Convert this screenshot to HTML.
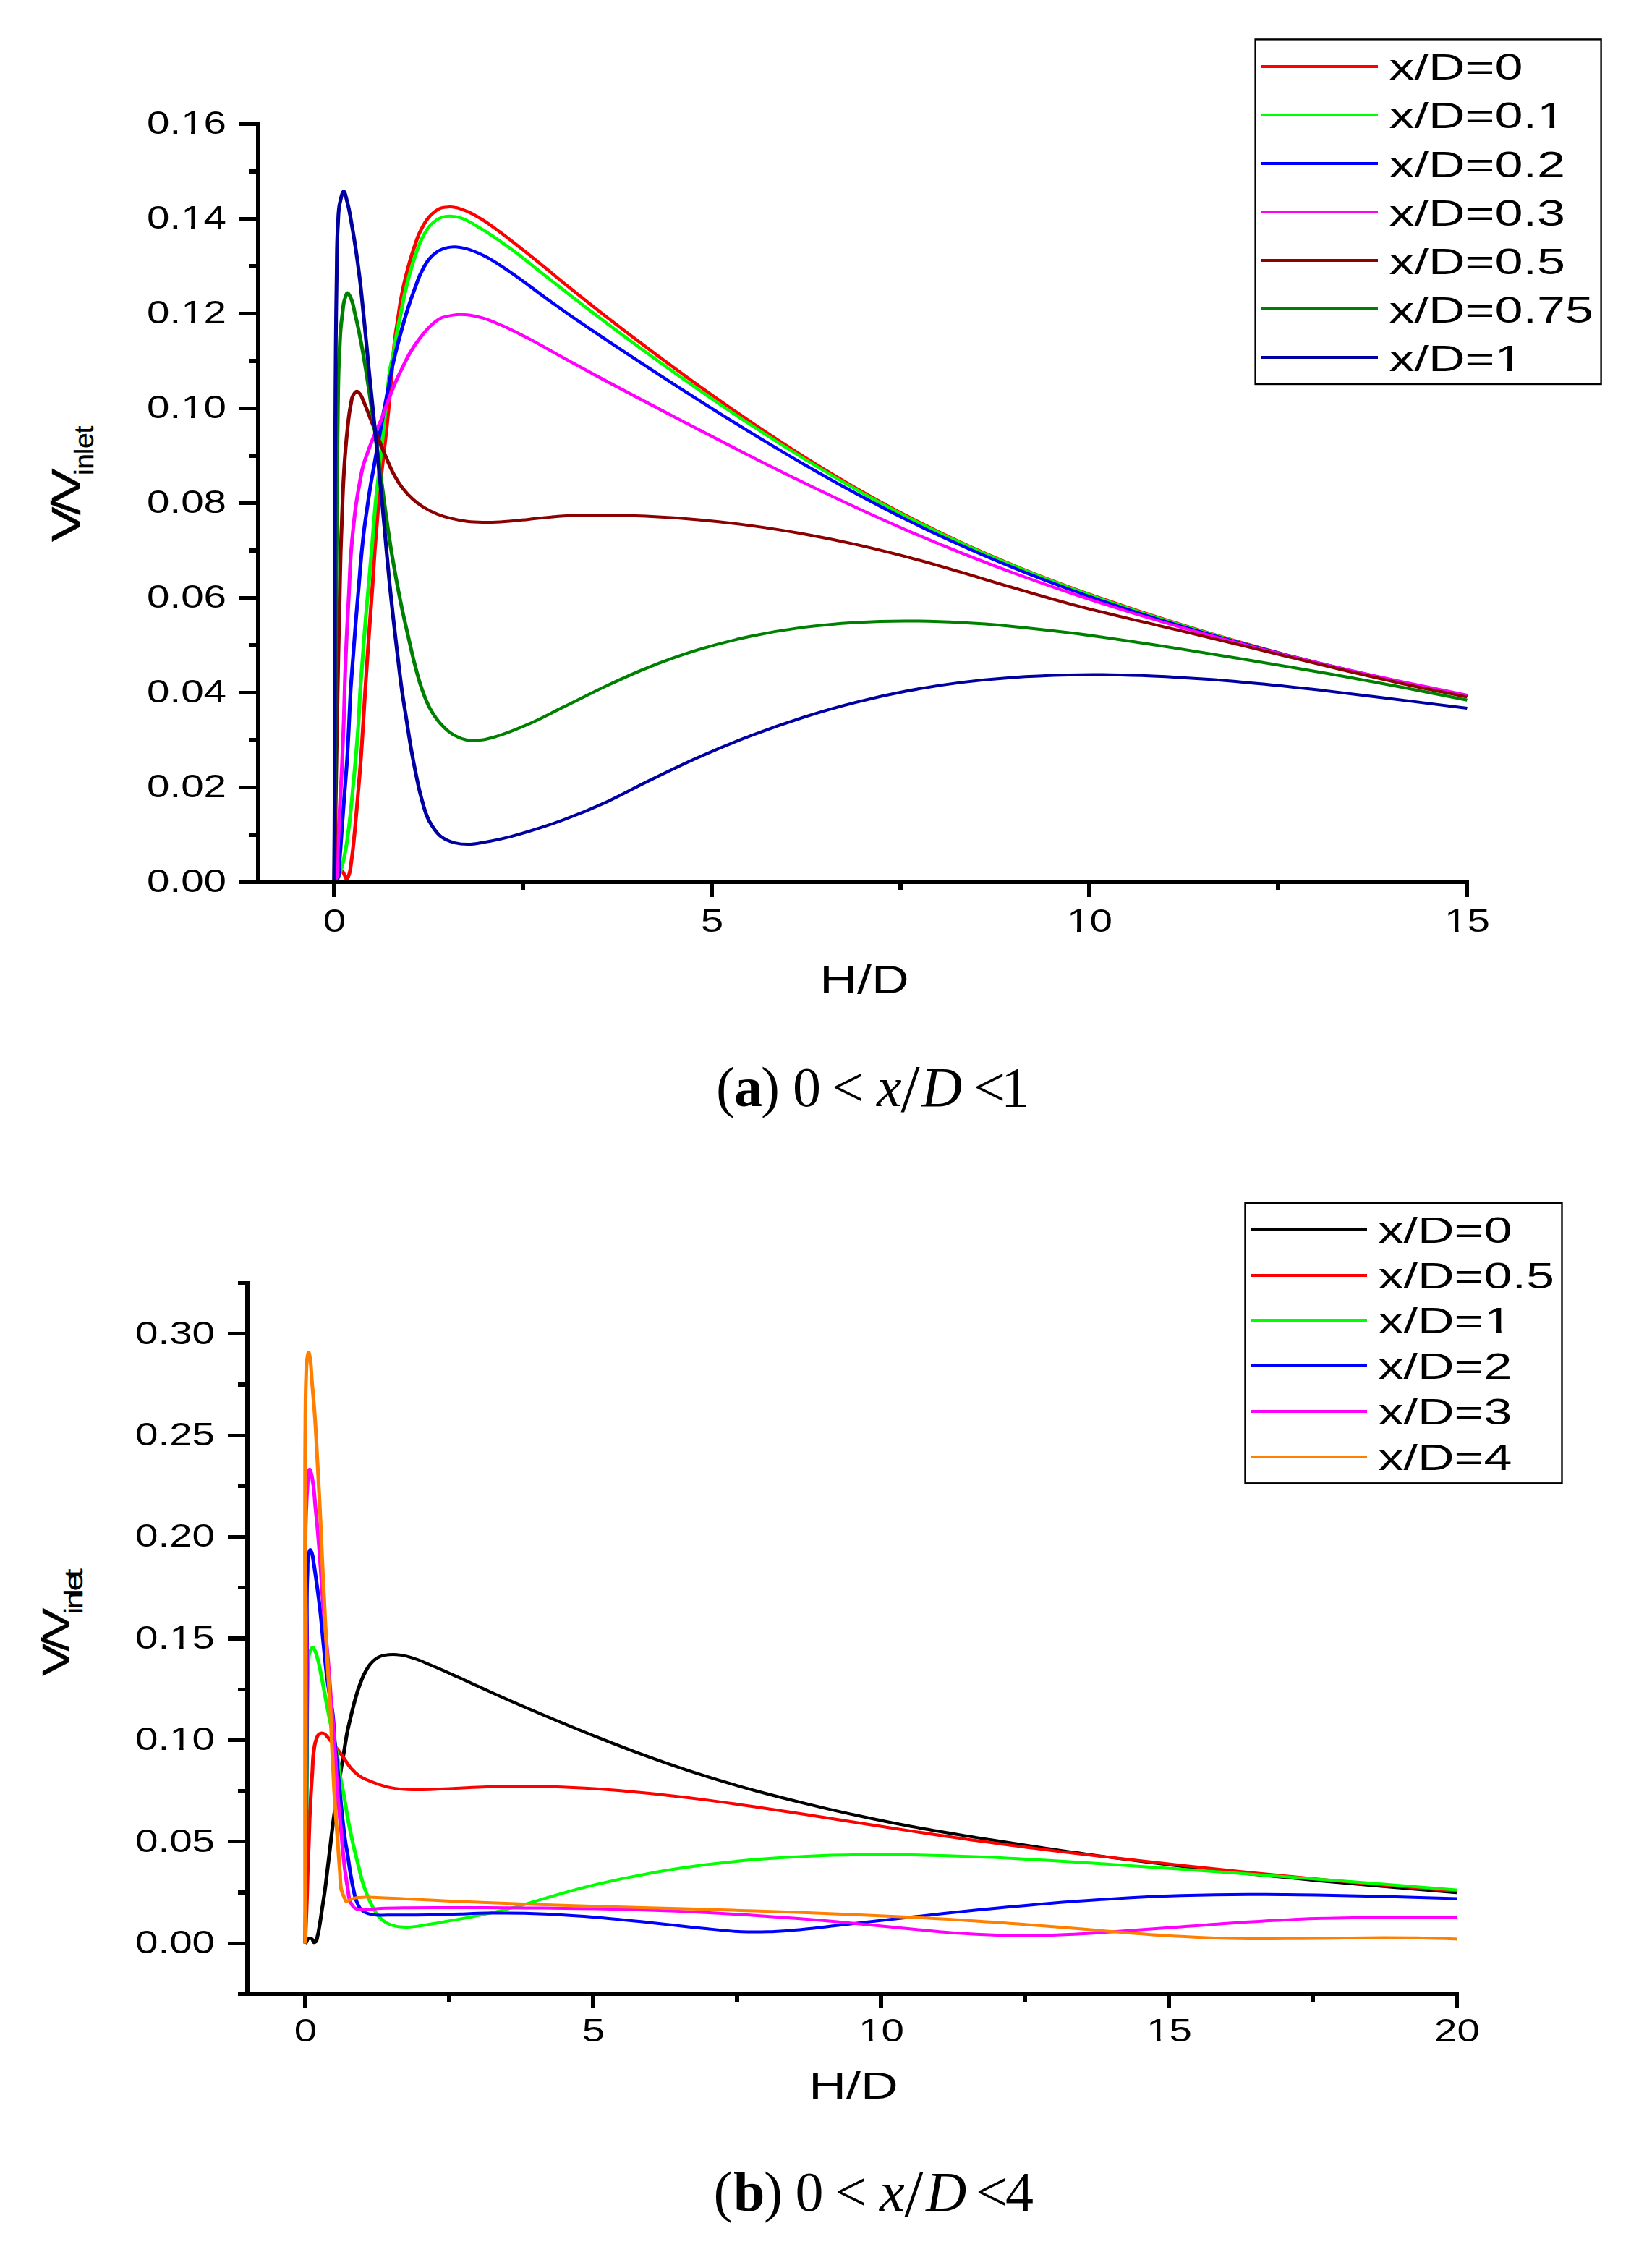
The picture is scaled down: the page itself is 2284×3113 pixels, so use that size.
<!DOCTYPE html>
<html><head><meta charset="utf-8"><title>Figure</title>
<style>
html,body{margin:0;padding:0;background:#fff;}
body{width:2284px;height:3113px;overflow:hidden;}
svg{display:block;}
text{font-family:"Liberation Sans", sans-serif;fill:#000;font-kerning:none;}
text.cap{font-family:"Liberation Serif",serif;}
</style></head><body>
<svg width="2284" height="3113" viewBox="0 0 2284 3113">
<rect width="2284" height="3113" fill="#fff"/>
<g id="plotA">
<g fill="none" stroke-width="4.0" stroke-linejoin="round" stroke-linecap="butt" transform="scale(1.280 1)">
<path stroke="#ff0000" d="M360.94 1219.4C361.98 1215.6 362.42 1211.4 364.06 1208.0C364.93 1206.2 365.72 1203.3 367.19 1203.0C367.81 1202.9 368.69 1203.1 369.30 1203.4C370.73 1204.2 371.04 1207.1 371.88 1209.0C372.82 1211.1 373.75 1215.6 374.61 1215.5C375.44 1215.4 376.29 1211.2 376.95 1209.0C378.84 1202.7 378.88 1195.6 379.69 1188.9C381.42 1174.5 382.31 1159.8 383.44 1145.3C384.68 1129.2 385.65 1113.0 386.72 1096.9C387.79 1080.7 388.92 1064.6 389.84 1048.4C390.73 1033.0 391.42 1017.5 392.19 1002.1C392.99 986.0 393.72 969.8 394.53 953.7C395.34 937.6 396.17 921.4 397.03 905.3C397.89 889.2 398.79 873.0 399.69 856.9C400.59 840.7 401.56 824.6 402.42 808.4C403.28 792.3 403.95 776.1 404.84 760.0C406.07 737.9 407.39 715.8 408.98 693.7C410.15 677.6 411.45 661.4 412.81 645.3C414.18 629.2 415.83 613.0 417.19 596.9C418.54 580.7 419.76 564.6 420.94 548.4C422.11 532.3 423.02 516.1 424.22 500.0C425.08 488.4 425.77 476.8 426.95 465.2C427.78 457.1 428.89 449.1 429.84 441.0C430.79 432.9 431.57 424.8 432.66 416.8C433.75 408.7 434.99 400.6 436.41 392.5C437.83 384.4 439.44 376.3 441.17 368.3C442.93 360.2 444.79 352.1 446.88 344.1C448.89 336.4 450.67 328.4 453.44 321.1C456.52 313.0 459.86 304.3 464.84 298.1C468.11 294.0 471.87 289.5 476.17 287.7C478.54 286.7 481.21 286.4 483.75 286.2C486.26 286.0 488.84 286.2 491.33 286.7C495.87 287.5 500.28 289.9 504.53 292.1C510.50 295.2 516.06 299.8 521.56 304.1C528.11 309.3 534.24 315.4 540.47 321.2C550.78 330.9 560.76 341.2 570.78 351.3C583.52 364.2 595.93 377.7 608.59 390.8C624.26 406.9 639.98 423.0 655.86 438.8C669.59 452.4 683.43 465.9 697.34 479.3C716.13 497.3 735.04 515.2 754.14 532.7C772.88 549.8 791.76 566.7 810.86 583.2C829.60 599.4 848.51 615.3 867.66 630.7C886.36 645.7 905.24 660.4 924.38 674.5C943.06 688.2 961.95 701.6 981.09 714.2C999.80 726.6 1018.76 738.5 1037.89 749.7C1061.25 763.5 1084.95 776.4 1108.83 788.7C1123.89 796.4 1139.07 803.8 1154.30 811.0C1174.36 820.5 1194.57 829.4 1214.84 838.1C1234.94 846.8 1255.15 855.0 1275.39 863.0C1295.51 870.9 1315.70 878.7 1335.94 886.1C1356.06 893.5 1376.24 900.7 1396.48 907.6C1416.58 914.4 1436.74 921.0 1456.95 927.2C1477.08 933.4 1497.26 939.4 1517.50 945.0C1539.83 951.2 1562.29 956.6 1584.69 962.4"/>
<path stroke="#00ff00" d="M360.94 1219.4C362.14 1218.1 363.57 1217.0 364.53 1215.5C366.19 1212.9 366.55 1209.1 367.42 1205.8C368.49 1201.8 369.40 1197.8 370.23 1193.7C371.87 1185.8 372.89 1177.6 373.98 1169.5C375.61 1157.5 376.68 1145.3 377.81 1133.2C379.32 1117.1 380.36 1100.9 381.56 1084.7C382.76 1068.6 383.96 1052.4 385.00 1036.3C385.76 1024.5 386.49 1012.8 387.11 1001.0C387.94 985.2 388.35 969.5 389.14 953.7C389.95 937.6 391.00 921.4 391.95 905.3C392.90 889.2 393.80 873.0 394.84 856.9C395.89 840.7 397.09 824.6 398.20 808.4C399.22 793.6 400.26 778.8 401.25 764.0C402.82 740.6 403.98 717.1 405.78 693.7C407.02 677.5 408.54 661.4 409.92 645.3C411.30 629.2 412.73 613.0 414.06 596.9C415.41 580.6 416.52 564.3 417.97 548.0C419.28 533.3 419.76 518.4 422.27 504.0C422.84 500.7 423.58 497.5 424.14 494.2C425.37 487.0 425.94 479.6 426.95 472.4C427.86 466.0 428.87 459.5 429.84 453.1C431.07 445.0 432.33 437.0 433.59 428.9C434.86 420.8 436.01 412.7 437.42 404.6C438.84 396.5 440.39 388.4 442.11 380.4C443.85 372.3 445.70 364.2 447.81 356.2C450.09 347.6 452.20 338.8 455.39 330.8C458.07 324.0 460.74 316.7 464.84 311.4C468.27 307.0 472.50 302.5 477.11 300.5C479.77 299.4 482.78 298.9 485.62 298.8C488.77 298.7 492.00 299.6 495.08 300.4C504.65 303.1 513.02 311.3 521.56 317.6C532.08 325.5 541.92 334.9 551.80 344.0C564.78 356.0 577.05 369.3 589.69 381.9C602.29 394.5 614.82 407.2 627.50 419.7C636.91 428.9 646.37 438.1 655.86 447.2C669.61 460.5 683.44 473.5 697.34 486.5C716.13 504.0 735.05 521.3 754.14 538.2C772.89 554.9 791.77 571.3 810.86 587.3C829.62 603.1 848.53 618.5 867.66 633.5C886.37 648.2 905.26 662.5 924.38 676.3C943.08 689.8 961.97 702.9 981.09 715.4C999.82 727.6 1018.78 739.3 1037.89 750.5C1061.27 764.3 1084.96 777.2 1108.83 789.4C1123.90 797.2 1139.07 804.6 1154.30 811.8C1174.36 821.3 1194.57 830.3 1214.84 839.1C1234.93 847.7 1255.14 855.9 1275.39 863.9C1295.50 871.8 1315.69 879.4 1335.94 886.8C1356.06 894.1 1376.25 901.1 1396.48 907.9C1416.59 914.6 1436.75 921.0 1456.95 927.2C1477.09 933.3 1497.27 939.2 1517.50 944.8C1539.84 951.0 1562.29 956.5 1584.69 962.4"/>
<path stroke="#0000ff" d="M360.94 1219.4C362.27 1217.3 363.87 1215.3 364.92 1213.1C368.07 1206.4 366.23 1197.0 366.80 1188.9C367.82 1174.4 368.46 1159.8 369.30 1145.3C370.23 1129.2 371.16 1113.0 372.11 1096.9C373.06 1080.7 374.19 1064.6 375.00 1048.4C375.79 1032.6 376.33 1016.8 376.95 1001.0C377.58 985.2 378.00 969.5 378.75 953.7C379.52 937.6 380.61 921.4 381.56 905.3C382.51 889.2 383.44 873.0 384.45 856.9C385.47 840.7 386.58 824.6 387.66 808.4C388.64 793.6 389.49 778.8 390.62 764.0C391.44 753.5 392.26 742.9 393.28 732.4C394.30 721.9 395.52 711.5 396.72 701.0C397.92 690.5 399.11 680.0 400.47 669.5C401.93 658.2 403.66 646.9 405.23 635.6C406.81 624.3 408.35 613.0 409.92 601.7C411.50 590.4 413.04 579.1 414.69 567.8C416.22 557.3 417.88 546.8 419.45 536.3C421.06 525.5 422.35 514.7 424.22 504.0C425.07 499.1 426.02 494.3 426.95 489.4C428.19 482.9 429.46 476.4 430.78 470.0C432.28 462.7 433.84 455.4 435.47 448.2C437.29 440.1 439.13 432.0 441.17 424.0C443.24 415.9 445.50 407.8 447.81 399.8C449.92 392.5 451.71 385.0 454.38 378.0C457.29 370.4 460.28 362.2 464.84 356.2C468.08 351.9 471.98 347.8 476.17 345.3C480.46 342.7 485.57 341.4 490.31 341.2C495.02 341.0 499.91 342.5 504.53 344.1C510.40 346.0 516.05 349.4 521.56 352.7C532.28 359.1 541.93 368.3 551.80 376.8C564.79 387.9 576.98 400.5 589.69 412.2C602.22 423.7 614.79 435.1 627.50 446.3C636.89 454.5 646.38 462.6 655.86 470.7C669.64 482.5 683.48 494.2 697.34 505.8C716.20 521.6 735.11 537.3 754.14 552.7C772.95 568.0 791.83 583.2 810.86 598.0C829.67 612.7 848.58 627.2 867.66 641.3C886.42 655.2 905.30 668.8 924.38 682.0C943.12 694.9 962.01 707.5 981.09 719.6C999.85 731.4 1018.80 742.9 1037.89 753.8C1061.30 767.3 1084.98 780.0 1108.83 792.1C1123.90 799.7 1139.07 807.1 1154.30 814.2C1174.36 823.6 1194.56 832.6 1214.84 841.1C1234.93 849.6 1255.13 857.7 1275.39 865.4C1295.49 873.1 1315.69 880.4 1335.94 887.5C1356.06 894.5 1376.26 901.2 1396.48 907.7C1416.59 914.1 1436.76 920.3 1456.95 926.3C1477.10 932.3 1497.30 938.1 1517.50 943.9C1539.87 950.2 1562.29 956.3 1584.69 962.5"/>
<path stroke="#ff00ff" d="M360.94 1219.4C361.51 1218.1 362.14 1216.8 362.66 1215.5C366.57 1205.5 363.98 1192.9 364.53 1181.6C365.52 1161.5 366.00 1141.3 366.80 1121.1C367.59 1100.9 368.56 1080.7 369.30 1060.5C370.08 1039.0 370.77 1017.5 371.33 996.0C371.80 977.9 372.03 959.7 372.50 941.6C373.02 921.4 373.65 901.3 374.38 881.1C375.10 860.9 376.05 840.7 376.88 820.5C377.64 801.7 378.02 782.8 379.14 764.0C379.82 752.7 380.64 741.3 381.56 730.0C382.42 719.5 383.29 709.0 384.45 698.5C385.53 688.8 386.82 679.1 388.20 669.5C389.36 661.4 390.29 653.2 391.95 645.3C393.50 637.9 395.62 630.7 397.66 623.5C399.73 616.2 401.95 608.9 404.30 601.7C406.69 594.4 409.53 587.3 411.88 579.9C414.66 571.2 416.83 562.1 419.45 553.3C421.87 545.2 424.25 537.1 426.95 529.1C429.73 520.9 432.85 513.0 435.94 505.0C437.96 499.8 439.87 494.5 442.11 489.4C445.47 481.8 449.29 474.5 453.44 467.6C456.97 461.7 460.57 455.7 464.84 450.7C468.31 446.6 471.98 442.3 476.17 439.8C480.19 437.4 484.91 436.4 489.38 435.6C494.35 434.7 499.53 434.7 504.53 435.2C510.27 435.8 516.01 437.7 521.56 439.7C528.03 442.1 534.25 445.7 540.47 449.1C550.81 454.7 560.79 461.4 570.78 467.9C583.58 476.4 595.98 485.7 608.59 494.6C619.26 502.1 629.92 509.6 640.62 517.0C659.45 530.1 678.41 542.8 697.34 555.5C716.25 568.3 735.17 580.9 754.14 593.5C773.01 606.0 791.89 618.5 810.86 630.8C829.73 643.0 848.64 655.1 867.66 666.9C886.48 678.6 905.37 690.2 924.38 701.4C943.18 712.5 962.07 723.4 981.09 733.9C999.91 744.3 1018.85 754.4 1037.89 764.1C1056.41 773.5 1075.04 782.7 1093.75 791.5C1113.83 801.0 1134.03 810.1 1154.30 818.9C1174.39 827.6 1194.59 835.9 1214.84 844.0C1234.95 852.0 1255.15 859.6 1275.39 867.1C1295.51 874.4 1315.70 881.5 1335.94 888.3C1356.07 895.1 1376.26 901.6 1396.48 907.9C1416.60 914.2 1436.76 920.3 1456.95 926.1C1477.10 932.0 1497.29 937.6 1517.50 943.2C1539.86 949.2 1562.29 955.0 1584.69 960.9"/>
<path stroke="#8b0000" d="M360.94 1219.4C361.33 1194.7 361.76 1170.0 362.11 1145.3C362.46 1121.1 362.72 1096.8 363.05 1072.6C363.37 1048.4 363.71 1024.2 364.06 1000.0C364.52 968.4 364.94 936.9 365.47 905.3C365.88 881.1 366.37 856.8 366.80 832.6C367.20 809.7 367.42 786.9 367.97 764.0C368.34 748.6 368.84 733.3 369.30 717.9C369.78 701.8 370.13 685.6 370.78 669.5C371.27 657.4 371.80 645.3 372.50 633.2C373.20 621.1 373.96 609.0 375.00 596.9C376.04 584.7 376.71 572.4 378.75 560.5C379.58 555.6 379.56 550.1 381.64 546.0C382.64 544.1 384.08 540.7 385.39 540.7C386.56 540.7 388.02 543.4 389.06 545.0C390.99 548.0 391.72 552.1 392.97 555.7C395.72 563.6 397.96 571.8 400.47 579.9C402.98 588.0 405.50 596.0 408.05 604.1C410.86 613.0 413.60 622.0 416.56 630.8C419.29 638.9 421.79 647.2 425.08 655.0C427.90 661.7 430.93 668.3 434.53 674.3C437.93 680.0 441.77 685.4 445.94 690.1C449.45 694.1 453.29 697.8 457.27 701.0C462.00 704.8 467.14 708.0 472.34 710.7C477.24 713.2 482.38 715.1 487.50 716.7C493.09 718.5 498.81 719.9 504.53 720.8C510.16 721.7 515.88 721.9 521.56 722.0C527.86 722.2 534.18 721.8 540.47 721.4C550.60 720.8 560.68 719.2 570.78 717.9C583.39 716.4 595.96 714.2 608.59 713.2C624.31 711.9 640.11 711.8 655.86 711.9C669.69 712.0 683.53 712.6 697.34 713.4C716.30 714.5 735.25 716.2 754.14 718.4C773.09 720.5 792.01 723.3 810.86 726.6C829.85 729.8 848.80 733.7 867.66 738.0C886.63 742.4 905.55 747.3 924.38 752.6C943.37 758.0 962.28 764.0 981.09 770.4C1000.12 776.8 1019.00 783.9 1037.89 790.9C1056.55 797.9 1075.10 805.3 1093.75 812.2C1113.90 819.8 1134.03 827.4 1154.30 834.3C1174.39 841.2 1194.62 847.5 1214.84 853.7C1234.99 860.0 1255.22 865.8 1275.39 871.9C1295.59 878.1 1315.76 884.3 1335.94 890.5C1356.13 896.8 1376.29 903.2 1396.48 909.4C1416.63 915.7 1436.77 921.9 1456.95 928.0C1477.11 934.0 1497.28 940.0 1517.50 945.7C1539.85 952.0 1562.29 957.6 1584.69 963.6"/>
<path stroke="#008000" d="M360.94 1219.4C361.20 1179.6 361.48 1139.8 361.72 1100.0C362.02 1050.0 362.24 1000.0 362.50 950.0C362.76 900.0 362.99 850.0 363.28 800.0C363.57 750.0 363.83 700.0 364.22 650.0C364.45 620.0 364.59 590.0 365.00 560.0C365.24 542.7 365.35 525.3 365.86 508.0C366.12 499.3 366.45 490.7 366.80 482.0C367.15 473.0 367.36 464.0 367.97 455.0C368.45 447.9 369.09 440.8 369.84 433.7C370.54 427.1 370.59 420.2 372.27 414.0C373.13 410.8 374.31 404.4 375.55 404.6C376.57 404.8 377.94 409.5 378.91 412.0C381.45 418.7 382.04 426.4 383.44 433.7C385.11 442.4 386.56 451.2 387.97 460.0C389.14 467.3 390.20 474.7 391.25 482.0C392.58 491.3 393.80 500.7 395.00 510.0C396.28 520.0 397.49 530.0 398.67 540.0C401.04 560.0 403.18 580.0 405.31 600.0C407.09 616.7 408.75 633.3 410.47 650.0C412.19 666.7 413.84 683.3 415.62 700.0C416.70 710.0 417.76 720.0 418.91 730.0C420.43 743.3 422.01 756.7 423.75 770.0C425.06 780.0 426.45 790.0 427.89 800.0C429.82 813.4 431.81 826.7 433.98 840.0C436.23 853.7 438.72 867.4 441.17 881.1C443.34 893.2 445.36 905.4 447.81 917.4C450.13 928.8 452.33 940.2 455.39 951.3C458.12 961.2 460.83 971.2 464.84 980.3C468.06 987.6 471.76 994.8 476.17 1000.9C480.07 1006.3 484.45 1011.7 489.38 1015.4C493.71 1018.7 498.68 1021.4 503.59 1022.7C509.06 1024.1 515.03 1023.6 520.62 1022.8C526.71 1021.9 532.68 1019.2 538.59 1017.0C549.60 1012.7 560.23 1006.8 570.78 1001.0C583.64 993.9 596.00 985.2 608.59 977.3C624.36 967.5 639.94 957.1 655.86 947.6C669.57 939.4 683.33 931.3 697.34 924.1C715.96 914.4 734.94 905.7 754.14 898.2C772.79 890.9 791.78 884.7 810.86 879.5C829.63 874.4 848.63 870.3 867.66 867.1C886.47 864.0 905.43 861.9 924.38 860.4C943.24 859.0 962.19 858.4 981.09 858.5C1000.03 858.5 1018.98 859.3 1037.89 860.6C1056.53 861.8 1075.16 863.7 1093.75 865.9C1113.97 868.3 1134.15 871.3 1154.30 874.5C1174.51 877.7 1194.68 881.4 1214.84 885.2C1235.05 889.0 1255.22 893.1 1275.39 897.1C1295.58 901.2 1315.77 905.4 1335.94 909.7C1356.13 913.9 1376.32 918.2 1396.48 922.7C1416.65 927.1 1436.81 931.7 1456.95 936.3C1477.15 941.0 1497.34 945.8 1517.50 950.8C1539.92 956.3 1562.29 962.1 1584.69 967.8"/>
<path stroke="#0000a0" d="M360.94 1219.4C361.20 1146.3 361.59 1073.1 361.72 1000.0C361.86 923.3 361.62 846.7 361.72 770.0C361.79 713.3 361.90 656.7 362.11 600.0C362.25 560.7 362.36 521.3 362.66 482.0C362.90 449.8 363.12 417.5 363.59 385.3C363.95 361.1 363.63 336.8 364.92 312.6C365.50 301.7 365.20 290.5 367.19 280.0C368.20 274.7 369.85 264.4 371.17 264.2C372.58 264.0 374.17 275.3 375.39 281.0C377.62 291.3 378.74 302.0 380.23 312.6C383.65 336.7 386.28 361.0 388.59 385.3C390.13 401.4 391.29 417.6 392.58 433.7C393.87 449.8 395.15 465.9 396.33 482.0C396.86 489.3 397.35 496.7 397.89 504.0C398.98 518.8 400.24 533.6 401.41 548.4C402.68 564.6 403.97 580.7 405.23 596.9C406.50 613.0 407.75 629.2 408.98 645.3C410.22 661.4 411.46 677.6 412.66 693.7C413.56 705.8 414.45 717.9 415.31 730.0C416.12 741.3 416.85 752.7 417.66 764.0C418.71 778.8 419.77 793.6 420.94 808.4C422.21 824.6 423.59 840.7 425.00 856.9C426.41 873.0 427.87 889.2 429.38 905.3C430.89 921.4 432.29 937.6 434.06 953.7C435.58 967.5 437.37 981.2 439.06 995.0C440.76 1008.8 442.32 1022.6 444.22 1036.3C445.68 1046.8 447.22 1057.3 448.91 1067.8C450.60 1078.3 452.16 1088.9 454.38 1099.3C457.00 1111.6 459.02 1124.7 463.91 1135.6C467.21 1143.0 470.96 1151.1 476.17 1156.2C480.46 1160.4 486.02 1163.3 491.33 1165.1C495.86 1166.6 500.76 1167.1 505.47 1167.1C511.47 1167.2 517.48 1165.4 523.44 1164.1C532.98 1162.1 542.43 1159.3 551.80 1156.3C561.36 1153.1 570.82 1149.4 580.23 1145.6C589.75 1141.8 599.23 1137.7 608.59 1133.3C624.60 1125.7 640.37 1117.3 655.86 1108.2C669.91 1099.9 683.45 1090.2 697.34 1081.5C716.16 1069.7 734.98 1057.8 754.14 1047.0C772.83 1036.4 791.75 1026.3 810.86 1017.0C829.60 1007.9 848.55 999.4 867.66 991.6C886.39 984.0 905.32 977.0 924.38 970.9C943.14 964.8 962.08 959.4 981.09 954.8C999.92 950.3 1018.89 946.5 1037.89 943.4C1056.44 940.4 1075.10 938.1 1093.75 936.4C1113.89 934.5 1134.10 933.5 1154.30 932.9C1169.42 932.5 1184.56 932.5 1199.69 932.7C1214.82 933.0 1229.96 933.6 1245.08 934.4C1265.28 935.5 1285.46 937.1 1305.62 939.0C1325.83 940.9 1346.01 943.3 1366.17 945.8C1386.37 948.3 1406.55 951.2 1426.72 954.1C1446.92 957.1 1467.09 960.3 1487.27 963.5C1507.45 966.6 1527.63 969.9 1547.81 973.1C1560.10 975.1 1572.40 977.0 1584.69 978.9"/>
</g>
<line x1="357.0" y1="168.8" x2="357.0" y2="1222.1" stroke="#000" stroke-width="5.6" shape-rendering="crispEdges"/>
<line x1="330.0" y1="1219.4" x2="2030.9" y2="1219.4" stroke="#000" stroke-width="5.3" shape-rendering="crispEdges"/>
<line x1="330.0" y1="1219.4" x2="357.0" y2="1219.4" stroke="#000" stroke-width="5.3" shape-rendering="crispEdges"/>
<text transform="translate(313.0 1233.2) scale(1.285 1)" font-size="44.0" text-anchor="end">0.00</text>
<line x1="344.0" y1="1153.9" x2="357.0" y2="1153.9" stroke="#000" stroke-width="5.3" shape-rendering="crispEdges"/>
<line x1="330.0" y1="1088.4" x2="357.0" y2="1088.4" stroke="#000" stroke-width="5.3" shape-rendering="crispEdges"/>
<text transform="translate(313.0 1102.2) scale(1.285 1)" font-size="44.0" text-anchor="end">0.02</text>
<line x1="344.0" y1="1022.9" x2="357.0" y2="1022.9" stroke="#000" stroke-width="5.3" shape-rendering="crispEdges"/>
<line x1="330.0" y1="957.4" x2="357.0" y2="957.4" stroke="#000" stroke-width="5.3" shape-rendering="crispEdges"/>
<text transform="translate(313.0 971.2) scale(1.285 1)" font-size="44.0" text-anchor="end">0.04</text>
<line x1="344.0" y1="891.9" x2="357.0" y2="891.9" stroke="#000" stroke-width="5.3" shape-rendering="crispEdges"/>
<line x1="330.0" y1="826.4" x2="357.0" y2="826.4" stroke="#000" stroke-width="5.3" shape-rendering="crispEdges"/>
<text transform="translate(313.0 840.2) scale(1.285 1)" font-size="44.0" text-anchor="end">0.06</text>
<line x1="344.0" y1="760.9" x2="357.0" y2="760.9" stroke="#000" stroke-width="5.3" shape-rendering="crispEdges"/>
<line x1="330.0" y1="695.4" x2="357.0" y2="695.4" stroke="#000" stroke-width="5.3" shape-rendering="crispEdges"/>
<text transform="translate(313.0 709.2) scale(1.285 1)" font-size="44.0" text-anchor="end">0.08</text>
<line x1="344.0" y1="629.9" x2="357.0" y2="629.9" stroke="#000" stroke-width="5.3" shape-rendering="crispEdges"/>
<line x1="330.0" y1="564.4" x2="357.0" y2="564.4" stroke="#000" stroke-width="5.3" shape-rendering="crispEdges"/>
<text transform="translate(313.0 578.2) scale(1.285 1)" font-size="44.0" text-anchor="end">0.10</text>
<g transform="translate(313.0 578.2) scale(1.285 1)" fill="#fff"><rect x="-47.10" y="-4.36" width="9.02" height="5.86"/><rect x="-33.79" y="-4.36" width="8.67" height="5.86"/></g>
<line x1="344.0" y1="498.9" x2="357.0" y2="498.9" stroke="#000" stroke-width="5.3" shape-rendering="crispEdges"/>
<line x1="330.0" y1="433.4" x2="357.0" y2="433.4" stroke="#000" stroke-width="5.3" shape-rendering="crispEdges"/>
<text transform="translate(313.0 447.2) scale(1.285 1)" font-size="44.0" text-anchor="end">0.12</text>
<g transform="translate(313.0 447.2) scale(1.285 1)" fill="#fff"><rect x="-47.10" y="-4.36" width="9.02" height="5.86"/><rect x="-33.79" y="-4.36" width="8.67" height="5.86"/></g>
<line x1="344.0" y1="367.9" x2="357.0" y2="367.9" stroke="#000" stroke-width="5.3" shape-rendering="crispEdges"/>
<line x1="330.0" y1="302.4" x2="357.0" y2="302.4" stroke="#000" stroke-width="5.3" shape-rendering="crispEdges"/>
<text transform="translate(313.0 316.2) scale(1.285 1)" font-size="44.0" text-anchor="end">0.14</text>
<g transform="translate(313.0 316.2) scale(1.285 1)" fill="#fff"><rect x="-47.10" y="-4.36" width="9.02" height="5.86"/><rect x="-33.79" y="-4.36" width="8.67" height="5.86"/></g>
<line x1="344.0" y1="236.9" x2="357.0" y2="236.9" stroke="#000" stroke-width="5.3" shape-rendering="crispEdges"/>
<line x1="330.0" y1="171.4" x2="357.0" y2="171.4" stroke="#000" stroke-width="5.3" shape-rendering="crispEdges"/>
<text transform="translate(313.0 185.2) scale(1.285 1)" font-size="44.0" text-anchor="end">0.16</text>
<g transform="translate(313.0 185.2) scale(1.285 1)" fill="#fff"><rect x="-47.10" y="-4.36" width="9.02" height="5.86"/><rect x="-33.79" y="-4.36" width="8.67" height="5.86"/></g>
<line x1="462.0" y1="1219.4" x2="462.0" y2="1239.7" stroke="#000" stroke-width="5.8" shape-rendering="crispEdges"/>
<text transform="translate(462.5 1288.4) scale(1.285 1)" font-size="44.0" text-anchor="middle">0</text>
<line x1="723.0" y1="1219.4" x2="723.0" y2="1229.5" stroke="#000" stroke-width="5.6" shape-rendering="crispEdges"/>
<line x1="984.0" y1="1219.4" x2="984.0" y2="1239.7" stroke="#000" stroke-width="5.8" shape-rendering="crispEdges"/>
<text transform="translate(984.5 1288.4) scale(1.285 1)" font-size="44.0" text-anchor="middle">5</text>
<line x1="1245.0" y1="1219.4" x2="1245.0" y2="1229.5" stroke="#000" stroke-width="5.6" shape-rendering="crispEdges"/>
<line x1="1506.0" y1="1219.4" x2="1506.0" y2="1239.7" stroke="#000" stroke-width="5.8" shape-rendering="crispEdges"/>
<text transform="translate(1506.5 1288.4) scale(1.285 1)" font-size="44.0" text-anchor="middle">10</text>
<g transform="translate(1506.5 1288.4) scale(1.285 1)" fill="#fff"><rect x="-22.63" y="-4.36" width="9.02" height="5.86"/><rect x="-9.32" y="-4.36" width="8.67" height="5.86"/></g>
<line x1="1767.0" y1="1219.4" x2="1767.0" y2="1229.5" stroke="#000" stroke-width="5.6" shape-rendering="crispEdges"/>
<line x1="2028.0" y1="1219.4" x2="2028.0" y2="1239.7" stroke="#000" stroke-width="5.8" shape-rendering="crispEdges"/>
<text transform="translate(2028.5 1288.4) scale(1.285 1)" font-size="44.0" text-anchor="middle">15</text>
<g transform="translate(2028.5 1288.4) scale(1.285 1)" fill="#fff"><rect x="-22.63" y="-4.36" width="9.02" height="5.86"/><rect x="-9.32" y="-4.36" width="8.67" height="5.86"/></g>
<text transform="translate(1195.0 1372.9) scale(1.280 1)" font-size="56.0" text-anchor="middle">H/D</text>
<text transform="translate(110.0 749.0) rotate(-90) scale(1.300 1)" font-size="56.0" x="0.00 28.73 40.71" y="0" stroke="#000" stroke-width="0.40">V/V</text>
<text transform="translate(129.0 657.0) rotate(-90) scale(1.060 1)" font-size="36.9" x="0.00 7.73 27.08 34.81 54.17" y="0" stroke="#000" stroke-width="0.30">inlet</text>
<rect x="1735.6" y="54.4" width="478" height="476.6" fill="#fff" stroke="#000" stroke-width="2.4"/>
<line x1="1744.0" y1="91.7" x2="1905.0" y2="91.7" stroke="#ff0000" stroke-width="4.2" shape-rendering="crispEdges"/>
<text transform="translate(1920.5 110.3) scale(1.385 1)" font-size="50.6" text-anchor="start">x/D=0</text>
<line x1="1744.0" y1="158.8" x2="1905.0" y2="158.8" stroke="#00ff00" stroke-width="4.2" shape-rendering="crispEdges"/>
<text transform="translate(1920.5 177.4) scale(1.385 1)" font-size="50.6" text-anchor="start">x/D=0.1</text>
<g transform="translate(1920.5 177.4) scale(1.385 1)" fill="#fff"><rect x="149.78" y="-5.02" width="10.40" height="6.52"/><rect x="165.05" y="-5.02" width="10.00" height="6.52"/></g>
<line x1="1744.0" y1="225.9" x2="1905.0" y2="225.9" stroke="#0000ff" stroke-width="4.2" shape-rendering="crispEdges"/>
<text transform="translate(1920.5 244.5) scale(1.385 1)" font-size="50.6" text-anchor="start">x/D=0.2</text>
<line x1="1744.0" y1="293.0" x2="1905.0" y2="293.0" stroke="#ff00ff" stroke-width="4.2" shape-rendering="crispEdges"/>
<text transform="translate(1920.5 311.6) scale(1.385 1)" font-size="50.6" text-anchor="start">x/D=0.3</text>
<line x1="1744.0" y1="360.1" x2="1905.0" y2="360.1" stroke="#8b0000" stroke-width="4.2" shape-rendering="crispEdges"/>
<text transform="translate(1920.5 378.7) scale(1.385 1)" font-size="50.6" text-anchor="start">x/D=0.5</text>
<line x1="1744.0" y1="427.2" x2="1905.0" y2="427.2" stroke="#008000" stroke-width="4.2" shape-rendering="crispEdges"/>
<text transform="translate(1920.5 445.8) scale(1.385 1)" font-size="50.6" text-anchor="start">x/D=0.75</text>
<line x1="1744.0" y1="494.3" x2="1905.0" y2="494.3" stroke="#0000a0" stroke-width="4.2" shape-rendering="crispEdges"/>
<text transform="translate(1920.5 512.9) scale(1.385 1)" font-size="50.6" text-anchor="start">x/D=1</text>
<g transform="translate(1920.5 512.9) scale(1.385 1)" fill="#fff"><rect x="107.58" y="-5.02" width="10.40" height="6.52"/><rect x="122.85" y="-5.02" width="10.00" height="6.52"/></g>
</g>
<g id="plotB">
<g fill="none" stroke-width="4.0" stroke-linejoin="round" stroke-linecap="butt" transform="scale(1.280 1)">
<path stroke="#000000" d="M329.69 2686.2C329.95 2686.0 330.23 2685.8 330.47 2685.5C331.50 2684.4 331.38 2681.9 332.34 2680.8C333.10 2679.9 334.31 2678.7 335.23 2678.9C335.96 2679.0 336.74 2680.0 337.34 2680.8C338.30 2682.0 338.37 2685.4 339.45 2685.3C339.87 2685.2 340.45 2684.8 340.86 2684.4C342.62 2682.8 342.37 2679.0 342.97 2676.2C344.00 2671.5 344.48 2666.5 345.16 2661.7C346.24 2653.9 347.03 2646.0 347.97 2638.1C348.91 2630.2 349.92 2622.4 350.78 2614.5C351.78 2605.4 352.56 2596.2 353.44 2587.0C354.33 2577.7 355.23 2568.3 356.09 2559.0C356.94 2549.9 357.71 2540.7 358.59 2531.6C359.48 2522.5 360.34 2513.4 361.41 2504.4C362.48 2495.3 363.90 2486.2 365.00 2477.1C366.31 2466.2 367.18 2455.3 368.52 2444.4C369.41 2437.1 370.45 2429.9 371.41 2422.6C372.59 2413.5 373.52 2404.4 374.92 2395.4C376.15 2387.5 377.66 2379.6 379.14 2371.8C380.51 2364.5 381.85 2357.2 383.44 2350.0C384.74 2344.1 386.06 2338.2 387.66 2332.4C389.35 2326.3 391.06 2320.1 393.36 2314.3C395.23 2309.6 397.13 2304.7 399.77 2300.7C402.01 2297.3 404.58 2293.8 407.58 2291.6C410.13 2289.7 413.18 2288.7 416.09 2287.9C418.86 2287.2 421.77 2287.0 424.61 2287.0C427.42 2287.0 430.26 2287.4 433.05 2287.9C437.87 2288.8 442.61 2290.6 447.27 2292.5C454.55 2295.4 461.47 2299.7 468.52 2303.5C478.07 2308.6 487.50 2314.2 496.95 2319.6C506.43 2325.1 515.84 2330.8 525.31 2336.3C532.38 2340.4 539.46 2344.5 546.56 2348.5C560.30 2356.2 574.13 2363.8 587.97 2371.3C606.83 2381.4 625.74 2391.5 644.77 2401.1C663.58 2410.7 682.45 2420.1 701.48 2428.9C720.30 2437.6 739.22 2446.0 758.28 2453.7C777.06 2461.3 796.00 2468.3 815.00 2475.0C833.82 2481.6 852.76 2487.7 871.72 2493.6C890.59 2499.5 909.53 2505.1 928.52 2510.3C947.08 2515.5 965.71 2520.3 984.38 2524.8C1008.57 2530.6 1032.89 2535.5 1057.19 2540.6C1081.43 2545.6 1105.71 2550.3 1130.00 2555.0C1154.25 2559.5 1178.52 2564.0 1202.81 2568.1C1227.08 2572.3 1251.39 2576.2 1275.70 2579.8C1299.95 2583.5 1324.23 2586.9 1348.52 2590.2C1372.77 2593.4 1397.05 2596.4 1421.33 2599.4C1445.59 2602.3 1469.86 2605.1 1494.14 2607.7C1520.59 2610.7 1547.06 2613.4 1573.52 2616.2"/>
<path stroke="#ff0000" d="M329.69 2686.2C329.95 2677.5 330.21 2668.7 330.47 2660.0C330.86 2646.7 331.31 2633.3 331.64 2620.0C331.92 2608.7 332.05 2597.4 332.34 2586.1C332.66 2574.0 333.16 2561.8 333.52 2549.7C333.87 2537.6 334.05 2525.5 334.45 2513.4C334.86 2501.3 335.37 2489.2 335.94 2477.1C336.36 2468.0 336.88 2459.0 337.34 2449.9C337.81 2440.8 337.73 2431.6 338.75 2422.6C339.44 2416.5 339.78 2410.2 341.56 2404.5C342.38 2401.9 342.85 2398.5 344.53 2397.0C345.39 2396.2 346.61 2395.4 347.66 2395.4C348.70 2395.4 349.86 2396.2 350.78 2397.0C351.92 2397.9 352.74 2399.5 353.67 2400.8C355.71 2403.7 357.41 2406.9 359.30 2409.9C361.19 2412.9 363.16 2415.9 365.00 2419.0C367.47 2423.1 369.75 2427.5 372.11 2431.7C374.46 2435.9 376.47 2440.5 379.14 2444.4C381.68 2448.1 384.55 2451.6 387.66 2454.4C391.51 2457.9 396.08 2460.2 400.47 2462.6C405.96 2465.6 411.71 2468.0 417.50 2469.8C423.97 2471.8 430.69 2472.9 437.34 2473.5C442.99 2474.0 448.70 2473.9 454.38 2473.9C459.09 2473.8 463.80 2473.6 468.52 2473.4C478.00 2473.0 487.47 2472.3 496.95 2471.8C506.41 2471.2 515.86 2470.5 525.31 2470.1C532.39 2469.8 539.48 2469.5 546.56 2469.4C560.36 2469.1 574.17 2469.2 587.97 2469.5C606.91 2470.0 625.86 2471.2 644.77 2472.8C663.70 2474.4 682.61 2476.5 701.48 2479.0C720.45 2481.4 739.38 2484.3 758.28 2487.4C777.21 2490.5 796.11 2494.0 815.00 2497.5C833.92 2501.0 852.82 2504.8 871.72 2508.5C890.66 2512.3 909.58 2516.2 928.52 2520.0C947.13 2523.7 965.74 2527.5 984.38 2531.1C1008.63 2535.8 1032.89 2540.5 1057.19 2544.8C1081.43 2549.1 1105.71 2553.1 1130.00 2557.0C1154.25 2560.9 1178.53 2564.5 1202.81 2568.0C1227.10 2571.6 1251.40 2575.0 1275.70 2578.4C1299.97 2581.7 1324.24 2585.0 1348.52 2588.2C1372.78 2591.3 1397.05 2594.4 1421.33 2597.3C1445.59 2600.2 1469.86 2603.1 1494.14 2605.8C1520.59 2608.8 1547.06 2611.4 1573.52 2614.3"/>
<path stroke="#00ff00" d="M329.69 2686.2C329.95 2657.5 330.23 2628.7 330.47 2600.0C330.88 2550.0 331.27 2500.0 331.48 2450.0C331.60 2423.3 331.48 2396.7 331.72 2370.0C331.82 2358.7 331.90 2347.4 332.11 2336.1C332.33 2324.0 332.10 2311.8 333.05 2299.7C333.48 2294.1 332.94 2288.0 334.77 2283.0C335.53 2280.9 336.75 2277.0 337.73 2277.0C338.71 2277.0 339.83 2280.9 340.62 2283.0C341.75 2286.0 342.25 2289.3 342.97 2292.5C344.84 2300.8 345.92 2309.4 347.27 2317.9C348.43 2325.2 349.45 2332.6 350.55 2340.0C351.54 2346.7 352.50 2353.3 353.52 2360.0C354.53 2366.7 355.56 2373.3 356.64 2380.0C357.77 2387.0 359.00 2394.0 360.16 2401.0C361.34 2408.2 362.62 2415.4 363.67 2422.6C365.43 2434.7 366.31 2446.9 367.97 2459.0C369.22 2468.1 370.83 2477.1 372.11 2486.2C373.38 2495.2 374.33 2504.4 375.62 2513.4C376.93 2522.5 378.37 2531.6 379.92 2540.7C381.20 2548.2 382.58 2555.6 383.98 2563.0C384.95 2568.1 385.96 2573.1 386.95 2578.2C388.37 2585.4 389.56 2592.8 391.25 2599.9C392.70 2606.0 394.32 2612.1 396.17 2618.1C397.89 2623.6 399.69 2629.2 401.88 2634.4C403.98 2639.4 406.03 2644.8 408.98 2649.0C411.42 2652.5 414.33 2655.8 417.50 2658.1C420.51 2660.3 424.02 2661.6 427.42 2662.6C431.09 2663.7 434.97 2663.8 438.75 2663.9C443.02 2664.0 447.31 2663.3 451.56 2662.6C457.25 2661.8 462.87 2660.2 468.52 2659.0C478.00 2656.9 487.49 2654.9 496.95 2652.6C506.42 2650.4 515.89 2648.2 525.31 2645.6C532.42 2643.7 539.51 2641.7 546.56 2639.5C550.93 2638.1 555.27 2636.6 559.61 2635.1C569.13 2631.8 578.49 2627.8 587.97 2624.3C606.80 2617.3 625.70 2610.5 644.77 2604.7C663.55 2599.0 682.49 2594.0 701.48 2589.6C720.33 2585.2 739.29 2581.5 758.28 2578.3C777.13 2575.2 796.06 2572.7 815.00 2570.6C833.87 2568.5 852.80 2567.0 871.72 2565.9C890.64 2564.8 909.58 2564.2 928.52 2563.8C947.13 2563.5 965.76 2563.6 984.38 2564.0C1008.65 2564.4 1032.93 2565.4 1057.19 2566.7C1081.47 2567.9 1105.74 2569.6 1130.00 2571.4C1154.28 2573.2 1178.55 2575.3 1202.81 2577.4C1227.11 2579.4 1251.41 2581.6 1275.70 2583.8C1299.98 2586.0 1324.25 2588.2 1348.52 2590.5C1372.79 2592.8 1397.06 2595.1 1421.33 2597.4C1445.60 2599.8 1469.87 2602.1 1494.14 2604.6C1520.60 2607.2 1547.06 2609.9 1573.52 2612.6"/>
<path stroke="#0000ff" d="M329.69 2686.2C329.95 2657.5 330.24 2628.7 330.47 2600.0C331.31 2493.9 331.20 2387.7 331.64 2281.6C331.79 2245.3 330.63 2208.9 332.11 2172.6C332.42 2165.1 331.76 2157.3 333.20 2150.0C333.73 2147.3 334.48 2141.8 335.23 2142.1C335.81 2142.3 336.60 2146.0 337.11 2148.0C338.07 2151.8 338.23 2155.9 338.75 2159.9C340.10 2170.2 341.16 2180.5 342.27 2190.8C343.56 2202.9 344.79 2215.0 345.86 2227.1C346.93 2239.2 347.74 2251.3 348.67 2263.4C349.38 2272.5 350.04 2281.6 350.78 2290.7C351.52 2299.8 352.21 2308.9 353.12 2317.9C354.04 2327.0 355.13 2336.0 356.25 2345.0C357.21 2352.7 358.50 2360.4 359.30 2368.2C360.53 2380.2 360.57 2392.4 361.41 2404.5C362.24 2416.6 363.35 2428.7 364.30 2440.8C365.25 2452.9 366.17 2465.0 367.11 2477.1C368.05 2489.2 368.86 2501.3 369.92 2513.4C370.99 2525.5 371.96 2537.7 373.52 2549.7C374.09 2554.1 374.81 2558.6 375.39 2563.0C376.28 2569.8 376.87 2576.8 377.73 2583.6C378.81 2592.1 379.89 2600.6 381.33 2609.0C382.37 2615.1 383.05 2621.4 384.84 2627.2C386.01 2631.0 387.11 2635.1 389.14 2638.1C390.68 2640.4 392.69 2642.5 394.77 2643.9C397.30 2645.6 400.41 2646.1 403.28 2646.8C408.38 2648.0 413.70 2647.2 418.91 2647.3C425.99 2647.4 433.07 2647.3 440.16 2647.3C449.61 2647.2 459.06 2647.1 468.52 2646.8C478.00 2646.5 487.47 2646.0 496.95 2645.7C506.41 2645.3 515.86 2644.8 525.31 2644.6C532.39 2644.5 539.48 2644.4 546.56 2644.5C560.37 2644.5 574.18 2645.0 587.97 2645.8C606.92 2646.8 625.86 2648.5 644.77 2650.4C663.70 2652.4 682.59 2654.9 701.48 2657.4C720.43 2659.9 739.33 2663.1 758.28 2665.4C772.43 2667.2 786.58 2669.6 800.78 2670.3C810.25 2670.7 819.75 2670.7 829.22 2670.3C838.68 2670.0 848.14 2669.0 857.58 2668.1C871.80 2666.6 885.97 2664.3 900.16 2662.3C914.33 2660.3 928.49 2658.1 942.66 2656.0C956.56 2654.0 970.47 2652.0 984.38 2650.0C1008.63 2646.6 1032.90 2643.2 1057.19 2640.1C1081.44 2637.0 1105.71 2634.0 1130.00 2631.4C1154.25 2628.9 1178.52 2626.5 1202.81 2624.7C1227.09 2622.8 1251.39 2621.3 1275.70 2620.3C1299.96 2619.4 1324.24 2618.9 1348.52 2618.8C1360.65 2618.8 1372.79 2618.8 1384.92 2618.9C1397.06 2619.1 1409.19 2619.3 1421.33 2619.5C1445.60 2620.0 1469.87 2620.8 1494.14 2621.6C1520.60 2622.5 1547.06 2623.6 1573.52 2624.6"/>
<path stroke="#ff00ff" d="M329.69 2686.2C329.95 2640.8 330.25 2595.4 330.47 2550.0C330.87 2466.7 330.94 2383.3 331.25 2300.0C331.56 2216.6 327.42 2133.0 332.34 2049.8C332.62 2045.2 332.38 2040.5 333.20 2036.0C333.53 2034.2 334.00 2030.7 334.45 2030.7C334.91 2030.7 335.50 2034.2 335.94 2036.0C337.02 2040.5 337.44 2045.2 338.05 2049.8C339.62 2061.8 339.92 2074.0 340.86 2086.1C341.53 2094.7 342.28 2103.4 342.89 2112.0C343.47 2120.1 343.95 2128.2 344.45 2136.3C345.20 2148.4 345.90 2160.5 346.56 2172.6C347.23 2184.7 347.73 2196.9 348.44 2209.0C349.24 2222.7 350.24 2236.3 351.17 2250.0C352.31 2266.6 353.61 2283.2 354.69 2299.8C355.99 2319.9 356.89 2339.9 358.20 2360.0C358.78 2368.8 359.46 2377.5 360.00 2386.3C360.74 2398.4 361.28 2410.5 361.88 2422.6C362.47 2434.7 362.96 2446.9 363.59 2459.0C364.23 2471.1 364.88 2483.2 365.70 2495.3C366.52 2507.4 367.63 2519.5 368.52 2531.6C369.28 2542.1 369.87 2552.5 370.70 2563.0C371.35 2571.1 371.98 2579.2 372.81 2587.2C373.63 2595.1 374.54 2603.0 375.62 2610.8C376.47 2616.9 376.38 2623.5 378.44 2629.0C379.39 2631.6 380.40 2634.4 382.03 2636.3C383.21 2637.6 384.77 2638.7 386.25 2639.4C388.85 2640.6 391.93 2639.5 394.77 2639.4C400.45 2639.3 406.12 2638.4 411.80 2638.1C421.24 2637.5 430.70 2637.4 440.16 2637.2C449.61 2637.0 459.06 2636.9 468.52 2636.9C477.99 2636.9 487.47 2636.9 496.95 2637.0C506.41 2637.0 515.86 2637.1 525.31 2637.1C532.40 2637.2 539.48 2637.2 546.56 2637.3C560.36 2637.4 574.17 2637.5 587.97 2637.6C606.90 2637.9 625.84 2638.1 644.77 2638.6C663.67 2639.1 682.58 2639.7 701.48 2640.6C720.42 2641.4 739.36 2642.4 758.28 2643.6C777.19 2644.8 796.10 2646.2 815.00 2647.8C833.92 2649.4 852.82 2651.1 871.72 2653.1C890.66 2655.0 909.59 2657.2 928.52 2659.5C947.14 2661.7 965.74 2664.4 984.38 2666.6C1002.57 2668.7 1020.76 2671.1 1038.98 2672.6C1057.16 2674.1 1075.38 2675.3 1093.59 2675.6C1105.72 2675.8 1117.87 2675.6 1130.00 2675.2C1142.14 2674.8 1154.28 2674.0 1166.41 2673.2C1178.55 2672.4 1190.68 2671.3 1202.81 2670.3C1227.12 2668.2 1251.40 2665.7 1275.70 2663.4C1299.97 2661.2 1324.23 2658.7 1348.52 2656.8C1372.77 2654.9 1397.04 2653.2 1421.33 2652.1C1445.59 2651.1 1469.87 2650.8 1494.14 2650.5C1520.60 2650.1 1547.06 2650.3 1573.52 2650.2"/>
<path stroke="#ff8000" d="M329.69 2686.2C329.64 2657.5 329.57 2628.7 329.53 2600.0C329.39 2500.0 329.53 2400.0 329.53 2300.0C329.53 2210.5 329.23 2121.1 329.53 2031.6C329.61 2007.4 329.60 1983.2 329.84 1959.0C330.03 1940.8 330.03 1922.7 330.62 1904.5C330.89 1896.3 330.67 1888.1 331.64 1880.0C332.08 1876.3 332.77 1869.1 333.36 1869.1C333.95 1869.1 334.67 1876.3 335.16 1880.0C336.22 1888.1 336.14 1896.3 336.64 1904.5C337.76 1922.7 339.17 1940.8 340.16 1959.0C341.14 1977.1 341.80 1995.3 342.58 2013.4C343.36 2031.6 344.11 2049.7 344.84 2067.9C345.43 2082.6 346.03 2097.3 346.56 2112.0C347.07 2126.2 347.47 2140.3 347.97 2154.5C348.61 2172.7 349.37 2190.8 350.08 2209.0C350.78 2227.1 351.43 2245.3 352.19 2263.4C352.94 2281.6 353.73 2299.7 354.61 2317.9C355.29 2331.9 356.21 2346.0 356.80 2360.0C357.42 2374.8 357.68 2389.7 358.20 2404.5C358.63 2416.6 359.14 2428.7 359.61 2440.8C360.08 2452.9 360.47 2465.0 361.02 2477.1C361.56 2489.2 362.23 2501.3 362.89 2513.4C363.55 2525.5 364.31 2537.6 365.00 2549.7C365.71 2562.2 366.26 2574.7 367.11 2587.2C367.73 2596.3 367.05 2605.9 369.22 2614.5C369.99 2617.6 370.99 2620.7 372.11 2623.6C372.76 2625.3 373.19 2628.3 374.22 2628.6C375.13 2628.9 376.54 2627.0 377.73 2626.3C379.58 2625.2 381.49 2624.2 383.44 2623.6C387.07 2622.4 390.99 2622.7 394.77 2622.6C400.44 2622.4 406.12 2622.9 411.80 2623.2C421.26 2623.6 430.70 2624.4 440.16 2625.0C449.61 2625.6 459.06 2626.2 468.52 2626.8C477.99 2627.4 487.47 2628.0 496.95 2628.5C506.41 2629.0 515.86 2629.5 525.31 2630.0C532.40 2630.4 539.48 2630.7 546.56 2631.0C560.36 2631.7 574.17 2632.3 587.97 2632.9C606.90 2633.7 625.83 2634.5 644.77 2635.2C663.67 2635.9 682.58 2636.6 701.48 2637.3C720.42 2638.0 739.35 2638.6 758.28 2639.3C777.19 2640.1 796.09 2640.8 815.00 2641.5C833.91 2642.3 852.81 2643.1 871.72 2644.0C890.65 2644.9 909.59 2645.8 928.52 2646.9C947.14 2647.9 965.76 2649.0 984.38 2650.2C1008.65 2651.9 1032.93 2653.6 1057.19 2655.7C1081.47 2657.7 1105.74 2660.0 1130.00 2662.4C1154.28 2664.8 1178.53 2667.8 1202.81 2670.2C1227.10 2672.6 1251.38 2675.2 1275.70 2676.8C1287.83 2677.7 1299.97 2678.4 1312.11 2678.9C1324.24 2679.4 1336.38 2679.7 1348.52 2679.9C1372.78 2680.2 1397.06 2679.6 1421.33 2679.4C1445.60 2679.2 1469.87 2678.4 1494.14 2678.4C1506.28 2678.4 1518.41 2678.4 1530.55 2678.7C1544.87 2679.0 1559.19 2679.8 1573.52 2680.4"/>
</g>
<line x1="342.2" y1="1770.9" x2="342.2" y2="2759.1" stroke="#000" stroke-width="6.0" shape-rendering="crispEdges"/>
<line x1="329.0" y1="2756.4" x2="2017.0" y2="2756.4" stroke="#000" stroke-width="5.3" shape-rendering="crispEdges"/>
<line x1="315.0" y1="2686.2" x2="342.2" y2="2686.2" stroke="#000" stroke-width="5.3" shape-rendering="crispEdges"/>
<text transform="translate(297.0 2700.0) scale(1.285 1)" font-size="44.0" text-anchor="end">0.00</text>
<line x1="315.0" y1="2545.8" x2="342.2" y2="2545.8" stroke="#000" stroke-width="5.3" shape-rendering="crispEdges"/>
<text transform="translate(297.0 2559.6) scale(1.285 1)" font-size="44.0" text-anchor="end">0.05</text>
<line x1="315.0" y1="2405.4" x2="342.2" y2="2405.4" stroke="#000" stroke-width="5.3" shape-rendering="crispEdges"/>
<text transform="translate(297.0 2419.2) scale(1.285 1)" font-size="44.0" text-anchor="end">0.10</text>
<g transform="translate(297.0 2419.2) scale(1.285 1)" fill="#fff"><rect x="-47.10" y="-4.36" width="9.02" height="5.86"/><rect x="-33.79" y="-4.36" width="8.67" height="5.86"/></g>
<line x1="315.0" y1="2265.0" x2="342.2" y2="2265.0" stroke="#000" stroke-width="5.3" shape-rendering="crispEdges"/>
<text transform="translate(297.0 2278.8) scale(1.285 1)" font-size="44.0" text-anchor="end">0.15</text>
<g transform="translate(297.0 2278.8) scale(1.285 1)" fill="#fff"><rect x="-47.10" y="-4.36" width="9.02" height="5.86"/><rect x="-33.79" y="-4.36" width="8.67" height="5.86"/></g>
<line x1="315.0" y1="2124.6" x2="342.2" y2="2124.6" stroke="#000" stroke-width="5.3" shape-rendering="crispEdges"/>
<text transform="translate(297.0 2138.4) scale(1.285 1)" font-size="44.0" text-anchor="end">0.20</text>
<line x1="315.0" y1="1984.2" x2="342.2" y2="1984.2" stroke="#000" stroke-width="5.3" shape-rendering="crispEdges"/>
<text transform="translate(297.0 1998.0) scale(1.285 1)" font-size="44.0" text-anchor="end">0.25</text>
<line x1="315.0" y1="1843.8" x2="342.2" y2="1843.8" stroke="#000" stroke-width="5.3" shape-rendering="crispEdges"/>
<text transform="translate(297.0 1857.6) scale(1.285 1)" font-size="44.0" text-anchor="end">0.30</text>
<line x1="329.0" y1="2756.4" x2="342.2" y2="2756.4" stroke="#000" stroke-width="5.3" shape-rendering="crispEdges"/>
<line x1="329.0" y1="2616.0" x2="342.2" y2="2616.0" stroke="#000" stroke-width="5.3" shape-rendering="crispEdges"/>
<line x1="329.0" y1="2475.6" x2="342.2" y2="2475.6" stroke="#000" stroke-width="5.3" shape-rendering="crispEdges"/>
<line x1="329.0" y1="2335.2" x2="342.2" y2="2335.2" stroke="#000" stroke-width="5.3" shape-rendering="crispEdges"/>
<line x1="329.0" y1="2194.8" x2="342.2" y2="2194.8" stroke="#000" stroke-width="5.3" shape-rendering="crispEdges"/>
<line x1="329.0" y1="2054.4" x2="342.2" y2="2054.4" stroke="#000" stroke-width="5.3" shape-rendering="crispEdges"/>
<line x1="329.0" y1="1914.0" x2="342.2" y2="1914.0" stroke="#000" stroke-width="5.3" shape-rendering="crispEdges"/>
<line x1="329.0" y1="1773.6" x2="342.2" y2="1773.6" stroke="#000" stroke-width="5.3" shape-rendering="crispEdges"/>
<line x1="422.0" y1="2756.4" x2="422.0" y2="2775.5" stroke="#000" stroke-width="5.8" shape-rendering="crispEdges"/>
<text transform="translate(422.5 2821.8) scale(1.285 1)" font-size="44.0" text-anchor="middle">0</text>
<line x1="621.0" y1="2756.4" x2="621.0" y2="2766.5" stroke="#000" stroke-width="5.6" shape-rendering="crispEdges"/>
<line x1="820.0" y1="2756.4" x2="820.0" y2="2775.5" stroke="#000" stroke-width="5.8" shape-rendering="crispEdges"/>
<text transform="translate(820.5 2821.8) scale(1.285 1)" font-size="44.0" text-anchor="middle">5</text>
<line x1="1019.0" y1="2756.4" x2="1019.0" y2="2766.5" stroke="#000" stroke-width="5.6" shape-rendering="crispEdges"/>
<line x1="1218.0" y1="2756.4" x2="1218.0" y2="2775.5" stroke="#000" stroke-width="5.8" shape-rendering="crispEdges"/>
<text transform="translate(1218.5 2821.8) scale(1.285 1)" font-size="44.0" text-anchor="middle">10</text>
<g transform="translate(1218.5 2821.8) scale(1.285 1)" fill="#fff"><rect x="-22.63" y="-4.36" width="9.02" height="5.86"/><rect x="-9.32" y="-4.36" width="8.67" height="5.86"/></g>
<line x1="1417.0" y1="2756.4" x2="1417.0" y2="2766.5" stroke="#000" stroke-width="5.6" shape-rendering="crispEdges"/>
<line x1="1616.0" y1="2756.4" x2="1616.0" y2="2775.5" stroke="#000" stroke-width="5.8" shape-rendering="crispEdges"/>
<text transform="translate(1616.5 2821.8) scale(1.285 1)" font-size="44.0" text-anchor="middle">15</text>
<g transform="translate(1616.5 2821.8) scale(1.285 1)" fill="#fff"><rect x="-22.63" y="-4.36" width="9.02" height="5.86"/><rect x="-9.32" y="-4.36" width="8.67" height="5.86"/></g>
<line x1="1815.0" y1="2756.4" x2="1815.0" y2="2766.5" stroke="#000" stroke-width="5.6" shape-rendering="crispEdges"/>
<line x1="2014.0" y1="2756.4" x2="2014.0" y2="2775.5" stroke="#000" stroke-width="5.8" shape-rendering="crispEdges"/>
<text transform="translate(2014.5 2821.8) scale(1.285 1)" font-size="44.0" text-anchor="middle">20</text>
<text transform="translate(1180.0 2901.0) scale(1.376 1)" font-size="52.1" text-anchor="middle">H/D</text>
<text transform="translate(95.0 2317.0) rotate(-90) scale(1.300 1)" font-size="52.0" x="0.00 26.68 37.80" y="0" stroke="#000" stroke-width="0.40">V/V</text>
<text transform="translate(114.4 2232.0) rotate(-90) scale(1.300 1)" font-size="35.5" x="0.00 5.58 19.55 25.12 39.09" y="0" stroke="#000" stroke-width="0.30">inlet</text>
<rect x="1721.5" y="1663.2" width="438" height="387.1" fill="#fff" stroke="#000" stroke-width="2.4"/>
<line x1="1729.7" y1="1699.8" x2="1890.0" y2="1699.8" stroke="#000000" stroke-width="4.2" shape-rendering="crispEdges"/>
<text transform="translate(1905.5 1717.8) scale(1.385 1)" font-size="50.6" text-anchor="start">x/D=0</text>
<line x1="1729.7" y1="1762.6" x2="1890.0" y2="1762.6" stroke="#ff0000" stroke-width="4.2" shape-rendering="crispEdges"/>
<text transform="translate(1905.5 1780.6) scale(1.385 1)" font-size="50.6" text-anchor="start">x/D=0.5</text>
<line x1="1729.7" y1="1825.4" x2="1890.0" y2="1825.4" stroke="#00ff00" stroke-width="4.2" shape-rendering="crispEdges"/>
<text transform="translate(1905.5 1843.4) scale(1.385 1)" font-size="50.6" text-anchor="start">x/D=1</text>
<g transform="translate(1905.5 1843.4) scale(1.385 1)" fill="#fff"><rect x="107.58" y="-5.02" width="10.40" height="6.52"/><rect x="122.85" y="-5.02" width="10.00" height="6.52"/></g>
<line x1="1729.7" y1="1888.2" x2="1890.0" y2="1888.2" stroke="#0000ff" stroke-width="4.2" shape-rendering="crispEdges"/>
<text transform="translate(1905.5 1906.2) scale(1.385 1)" font-size="50.6" text-anchor="start">x/D=2</text>
<line x1="1729.7" y1="1951.0" x2="1890.0" y2="1951.0" stroke="#ff00ff" stroke-width="4.2" shape-rendering="crispEdges"/>
<text transform="translate(1905.5 1969.0) scale(1.385 1)" font-size="50.6" text-anchor="start">x/D=3</text>
<line x1="1729.7" y1="2013.8" x2="1890.0" y2="2013.8" stroke="#ff8000" stroke-width="4.2" shape-rendering="crispEdges"/>
<text transform="translate(1905.5 2031.8) scale(1.385 1)" font-size="50.6" text-anchor="start">x/D=4</text>
</g>
<text class="cap" font-size="78" y="1528.8"><tspan x="990.0">(</tspan><tspan x="1015.0" font-weight="bold">a</tspan><tspan x="1052.0">) </tspan><tspan x="1096.0">0 </tspan><tspan x="1150.0">&lt; </tspan><tspan x="1212.0" font-style="italic">x</tspan><tspan x="1245.5" y="1535.8" font-size="94">/</tspan><tspan x="1274.0" y="1528.8" font-style="italic">D </tspan><tspan x="1346.0">&lt;</tspan><tspan x="1384.0">1</tspan></text>
<text class="cap" font-size="78" y="3055.6"><tspan x="986.5">(</tspan><tspan x="1014.0" font-weight="bold">b</tspan><tspan x="1056.0">) </tspan><tspan x="1099.5">0 </tspan><tspan x="1154.5">&lt; </tspan><tspan x="1216.0" font-style="italic">x</tspan><tspan x="1250.5" y="3062.6" font-size="94">/</tspan><tspan x="1280.0" y="3055.6" font-style="italic">D </tspan><tspan x="1349.0">&lt;</tspan><tspan x="1390.0">4</tspan></text>
</svg>
</body></html>
